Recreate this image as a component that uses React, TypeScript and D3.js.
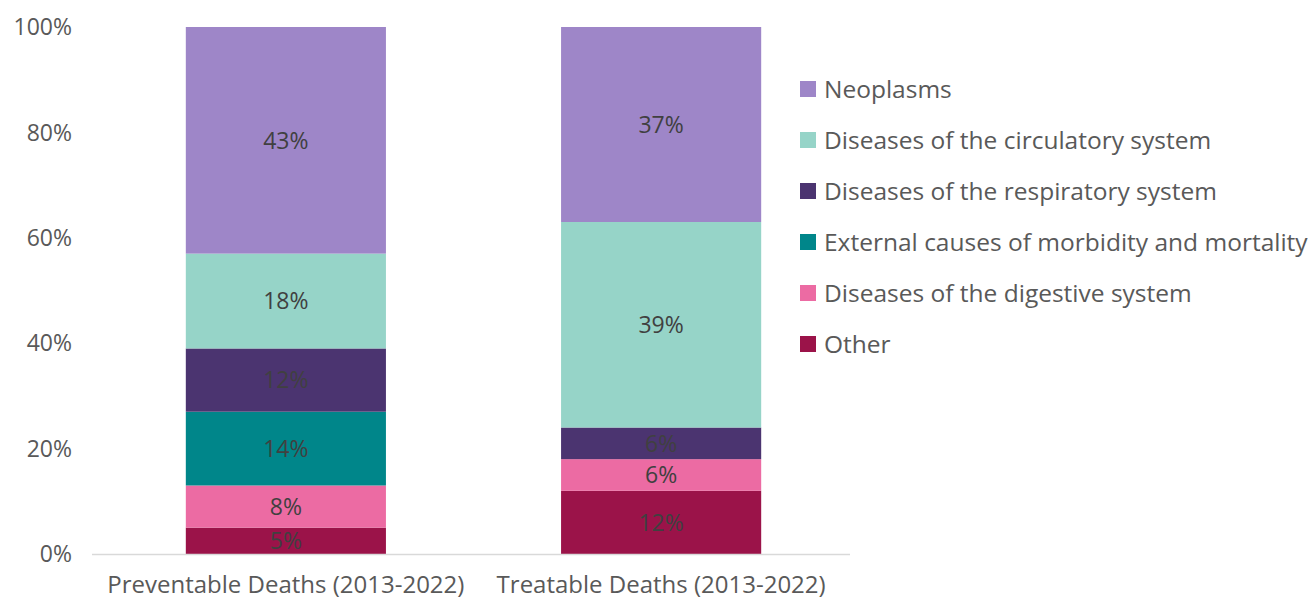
import React from "react";
import * as d3 from "d3";

const categories = ["Preventable Deaths (2013-2022)", "Treatable Deaths (2013-2022)"];
const causes = [
  "Other",
  "Diseases of the digestive system",
  "External causes of morbidity and mortality",
  "Diseases of the respiratory system",
  "Diseases of the circulatory system",
  "Neoplasms",
];
const preventable = [5, 8, 14, 12, 18, 43];
const treatable = [12, 6, 0, 6, 39, 37];
const colors = ["#9B1349", "#EC6BA3", "#00868A", "#4B3470", "#96D4C8", "#9E86C8"];
const yTicks = [0, 20, 40, 60, 80, 100];

const W = 1313;
const H = 602;
const FONT = "'Open Sans', 'Noto Sans', sans-serif";

export default function App() {
  const x = d3
    .scaleBand<string>()
    .domain(categories)
    .range([92, 855])
    .paddingInner(0.4667)
    .paddingOuter(0.25);
  const y = d3.scaleLinear().domain([0, 100]).range([554, 27]);

  const table = categories.map((c, i) => {
    const row: Record<string, number | string> = { cat: c };
    const vals = i === 0 ? preventable : treatable;
    causes.forEach((k, j) => (row[k] = vals[j]));
    return row;
  });
  const stacked = d3.stack<Record<string, number | string>>().keys(causes)(table as any);

  const legendOrder = [...causes].reverse();

  return (
    <svg width={W} height={H} style={{ position: "absolute", left: 0, top: 0, fontFamily: FONT }}>
      <rect width={W} height={H} fill="#fff" />
      {yTicks.map((t) => (
        <text key={t} x={72} y={y(t)} dy="0.36em" textAnchor="end" fontSize={23} fill="#595959">
          {t}%
        </text>
      ))}
      {stacked.map((layer, li) =>
        layer.map((d, ci) => {
          const v = d[1] - d[0];
          if (v <= 0) return null;
          const x0 = x(categories[ci])!;
          return (
            <g key={`${li}-${ci}`}>
              <rect x={x0} y={y(d[1])} width={x.bandwidth()} height={y(d[0]) - y(d[1])} fill={colors[li]} />
              <text
                x={x0 + x.bandwidth() / 2}
                y={(y(d[0]) + y(d[1])) / 2}
                dy="0.36em"
                textAnchor="middle"
                fontSize={23}
                fill="#404040"
              >
                {v}%
              </text>
            </g>
          );
        })
      )}
      <line x1={92} x2={850} y1={554.5} y2={554.5} stroke="#d9d9d9" strokeWidth={1.5} />
      {categories.map((c) => (
        <text key={c} x={x(c)! + x.bandwidth() / 2} y={593} textAnchor="middle" fontSize={24} fill="#595959">
          {c}
        </text>
      ))}
      {legendOrder.map((k, i) => {
        const ly = 89 + i * 51;
        return (
          <g key={k}>
            <rect x={800} y={ly - 8} width={16} height={16} fill={colors[causes.indexOf(k)]} />
            <text x={824} y={ly} dy="0.36em" fontSize={24.5} fill="#595959">
              {k}
            </text>
          </g>
        );
      })}
    </svg>
  );
}
